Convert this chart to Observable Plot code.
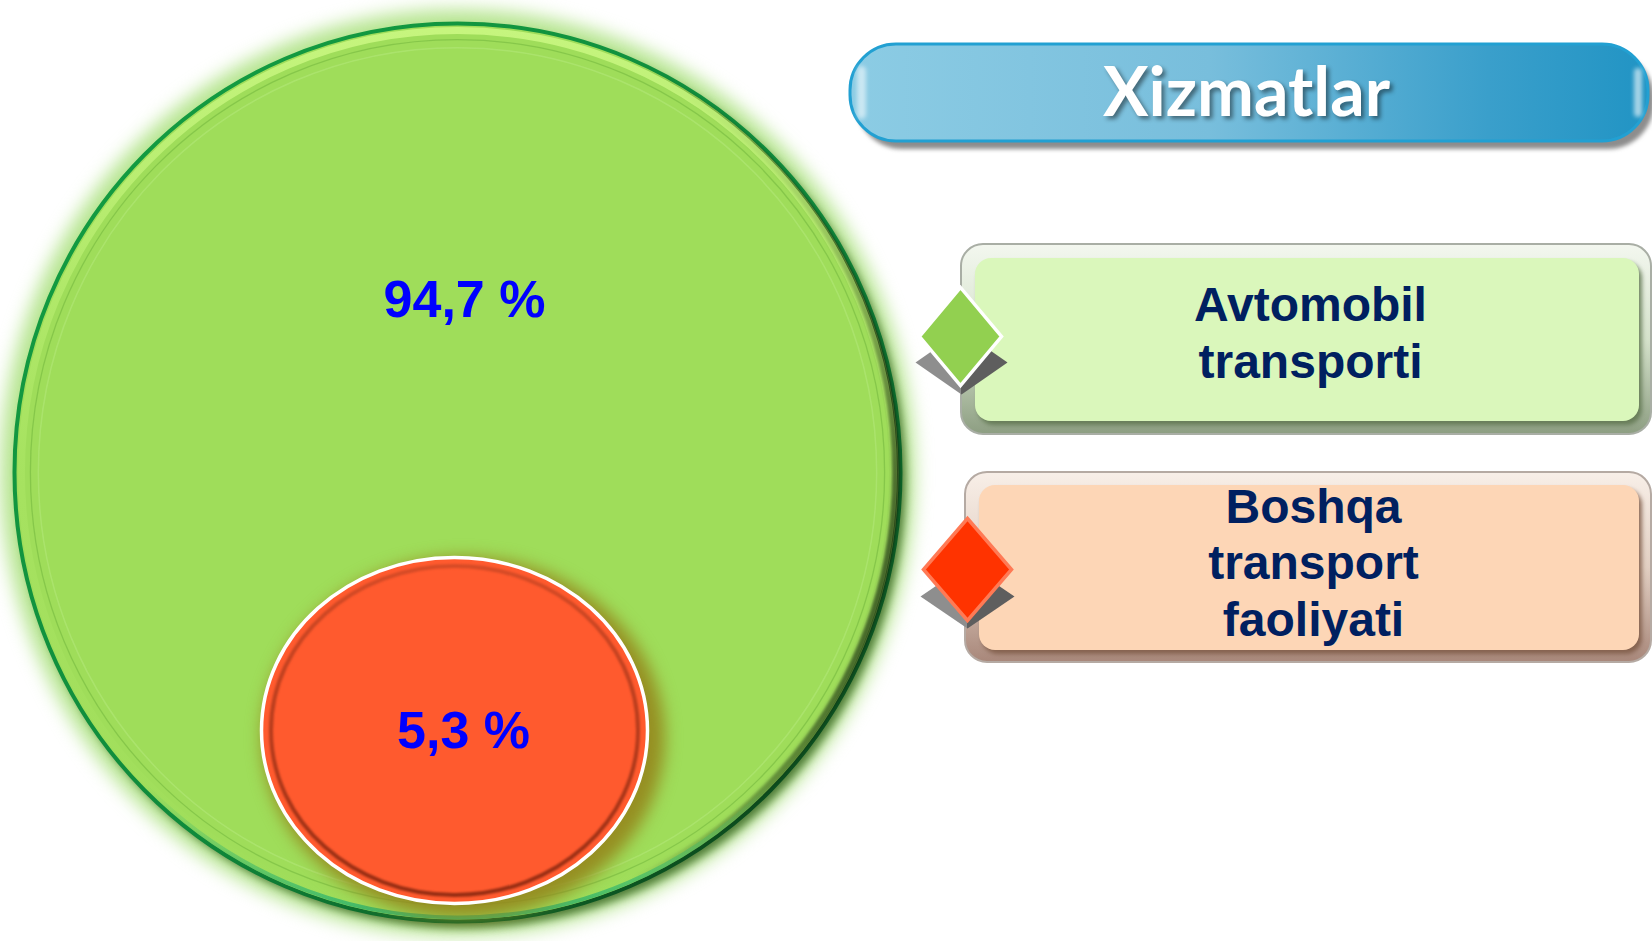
<!DOCTYPE html>
<html><head><meta charset="utf-8">
<script src="https://cdn.jsdelivr.net/npm/d3@7"></script>
<script src="https://cdn.jsdelivr.net/npm/@observablehq/plot@0.6"></script>
<style>html,body{margin:0;padding:0;overflow:hidden;background:#fff}</style>
</head><body><div id="chart"></div>
<script>
const W = 1652, H = 941;

// ---- data ----
const title = "Xizmatlar";
const categories = ["Avtomobil transporti", "Boshqa transport faoliyati"];
const legendLabels = ["Avtomobil\ntransporti", "Boshqa\ntransport\nfaoliyati"];
const shares = [94.7, 5.3];
const shareLabels = ["94,7 %", "5,3 %"];

// ---- layout (positions & sizes) ----
const circleLayout = [
  {cx: 457, cy: 472, rx: 443, ry: 449},
  {cx: 454, cy: 730, rx: 193, ry: 173}
];
const labelLayout = [{lx: 464, ly: 300}, {lx: 463, ly: 731}];
const boxLayout = [
  {x1: 961, x2: 1651, y1: 244, y2: 434, ix1: 975, ix2: 1639, iy1: 258, iy2: 421, tx: 1310, ty: 331},
  {x1: 965, x2: 1651, y1: 472, y2: 662, ix1: 979, ix2: 1639, iy1: 485, iy2: 650, tx: 1313, ty: 561}
];
const diamondLayout = [
  {dx0: 960, dy0: 336, hw: 41, hh: 49, sx: 961, sy: 362, shw: 46, shh: 32},
  {dx0: 967, dy0: 569, hw: 44, hh: 51, sx: 967, sy: 596, shw: 47, shh: 32}
];
const bannerLayout = {x1: 850, x2: 1648, y1: 44, y2: 141, tx: 1246, ty: 94};

// ---- styles ----
const circleFill = ["#9fdd5a", "#ff5a2e"];
const diamondFill = ["#92d050", "#ff3300"];
const diamondStroke = ["#ffffff", "#ff7a55"];
const boxInner = ["#daf7bb", "#fdd6b6"];
const boxInnerShadow = ["#5f7650", "#7e5a46"];
const boxStroke = ["#a9aea5", "#b5aaa3"];
const textBlue = "#0000ff";
const textNavy = "#002060";

const table = categories.map((c, i) => ({
  category: c, share: shares[i], label: shareLabels[i], legend: legendLabels[i],
  ...circleLayout[i], ...labelLayout[i], ...boxLayout[i], ...diamondLayout[i], i
}));
const bannerData = [{title, ...bannerLayout}];

// ---- custom symbols ----
const K = 0.5522847;
function ellipseSymbol(rx, ry) {
  return {draw(ctx, size) {
    const s = Math.sqrt(size / Math.PI) / Math.sqrt(rx * ry);
    const a = rx * s, b = ry * s;
    ctx.moveTo(a, 0);
    ctx.bezierCurveTo(a, b * K, a * K, b, 0, b);
    ctx.bezierCurveTo(-a * K, b, -a, b * K, -a, 0);
    ctx.bezierCurveTo(-a, -b * K, -a * K, -b, 0, -b);
    ctx.bezierCurveTo(a * K, -b, a, -b * K, a, 0);
    ctx.closePath();
  }};
}
function diamondSymbol(hw, hh) {
  return {draw(ctx, size) {
    const s = Math.sqrt(size / Math.PI) / Math.sqrt(hw * hh);
    const a = hw * s, b = hh * s;
    ctx.moveTo(0, -b); ctx.lineTo(a, 0); ctx.lineTo(0, b); ctx.lineTo(-a, 0); ctx.closePath();
  }};
}
const rOf = (rx, ry) => Math.sqrt(rx * ry);

// ---- defs ----
function defsMark() {
  const defs = d3.create("svg:defs");
  const lin = (id, x1, y1, x2, y2, stops) => {
    const g = defs.append("linearGradient").attr("id", id)
      .attr("x1", x1).attr("y1", y1).attr("x2", x2).attr("y2", y2);
    stops.forEach(([o, c, op]) => g.append("stop").attr("offset", o).attr("stop-color", c).attr("stop-opacity", op ?? 1));
  };
  lin("bannerGrad", 0, 0, 1, 0, [[0, "#8cccE4"], [0.45, "#78bedc"], [0.8, "#3a9fcb"], [1, "#2194c4"]]);
  lin("greenRim", 0, 0, 1, 1, [[0, "#14a043"], [0.55, "#0f8a3b"], [0.8, "#0c5a24"], [1, "#0a2c10"]]);
  lin("greenShade", 0, 0, 1, 0, [[0, "#1e3c14", 0], [0.7, "#1e3c14", 0], [1, "#10240a", 0.95]]);
  lin("greenHi", 0, 0, 0, 1, [[0, "#c6f57e", 1], [0.5, "#b4ec6c", 0.35], [1, "#b4ec6c", 0]]);
  lin("greenBottom", 0, 0, 0, 1, [[0, "#2fb06a", 0], [0.85, "#2fb06a", 0], [1, "#2fb56e", 0.9]]);
  lin("redRing", 0, 0, 0, 1, [[0, "#d24a26"], [1, "#8a2810"]]);
  lin("dShadow", 0, 0, 1, 0, [[0, "#8e8e8e"], [0.5, "#8e8e8e"], [0.5, "#5e5e5e"], [1, "#5e5e5e"]]);
  lin("box0", 0, 0, 0, 1, [[0, "#f3f7ef"], [0.5, "#d5e2cb"], [1, "#8d9e82"]]);
  lin("box1", 0, 0, 0, 1, [[0, "#f8efe8"], [0.5, "#e2cfc2"], [1, "#a8877a"]]);
  return defs.node();
}

const mk = (i) => table.filter(d => d.i === i);

const marks = [defsMark];

// green circle
{
  const d = table[0], r = rOf(d.rx, d.ry), sym = ellipseSymbol(d.rx, d.ry);
  const data = mk(0);
  marks.push(
    Plot.dot(data, {x: "cx", y: "cy", r: r + 14, symbol: sym, fill: "#a9e07c", fillOpacity: 0.85, imageFilter: "blur(9px)"}),
    Plot.dot(data, {x: "cx", y: "cy", dx: 5, dy: 6, r, symbol: sym, fill: "#4f7b38", imageFilter: "blur(4px)"}),
    Plot.dot(data, {x: "cx", y: "cy", r, symbol: sym, fill: circleFill[0], stroke: "url(#greenRim)", strokeWidth: 4}),
    Plot.dot(data, {x: "cx", y: "cy", r: r - 5, symbol: sym, fill: "none", stroke: "url(#greenShade)", strokeWidth: 7, imageFilter: "blur(1.5px)"}),
    Plot.dot(data, {x: "cx", y: "cy", r: r - 4, symbol: sym, fill: "none", stroke: "url(#greenBottom)", strokeWidth: 4}),
    Plot.dot(data, {x: "cx", y: "cy", r: r - 7, symbol: sym, fill: "none", stroke: "url(#greenHi)", strokeWidth: 7}),
    Plot.dot(data, {x: "cx", y: "cy", r: r - 16, symbol: sym, fill: "none", stroke: "#7fc246", strokeWidth: 1.3, strokeOpacity: 0.8}),
    Plot.dot(data, {x: "cx", y: "cy", r: r - 24, symbol: sym, fill: "none", stroke: "#b2e878", strokeWidth: 1.5, strokeOpacity: 0.6})
  );
}
// red circle
{
  const d = table[1], r = rOf(d.rx, d.ry), sym = ellipseSymbol(d.rx, d.ry);
  const data = mk(1);
  marks.push(
    Plot.dot(data, {x: "cx", y: "cy", dx: 9, dy: 7, r: r + 8, symbol: sym, fill: "#95861c", fillOpacity: 0.9, imageFilter: "blur(8px)"}),
    Plot.dot(data, {x: "cx", y: "cy", r, symbol: sym, fill: circleFill[1], stroke: "#ffffff", strokeWidth: 3.5}),
    Plot.dot(data, {x: "cx", y: "cy", r: r - 9, symbol: sym, fill: "none", stroke: "url(#redRing)", strokeWidth: 4, strokeOpacity: 0.9, imageFilter: "blur(1px)"})
  );
}
// share labels
marks.push(Plot.text(table, {x: "lx", y: "ly", text: "label", fill: textBlue, fontSize: 52, fontWeight: "bold",
  fontFamily: "Liberation Sans, Arial, sans-serif", textAnchor: "middle", lineAnchor: "middle"}));

// banner
marks.push(
  Plot.rect(bannerData, {x1: "x1", x2: "x2", y1: "y1", y2: "y2", dx: 6, dy: 8, rx: 46, fill: "#8d8d8d", imageFilter: "blur(2px)"}),
  Plot.rect(bannerData, {x1: "x1", x2: "x2", y1: "y1", y2: "y2", rx: 46, fill: "url(#bannerGrad)", stroke: "#22a0d2", strokeWidth: 3}),
  Plot.rect(bannerData, {x1: d => d.x1 + 7, x2: d => d.x1 + 16, y1: d => d.y1 + 22, y2: d => d.y2 - 22, rx: 5, fill: "#ffffff", fillOpacity: 0.55, imageFilter: "blur(2px)"}),
  Plot.rect(bannerData, {x1: d => d.x2 - 14, x2: d => d.x2 - 6, y1: d => d.y1 + 24, y2: d => d.y2 - 24, rx: 4, fill: "#ffffff", fillOpacity: 0.6, imageFilter: "blur(2px)"}),
  Plot.text(bannerData, {x: "tx", y: "ty", text: "title", fill: "#ffffff", fontSize: 68, fontWeight: "bold",
    fontFamily: "Lato, Open Sans, sans-serif", textAnchor: "middle", lineAnchor: "middle",
    imageFilter: "drop-shadow(3px 3px 2px rgba(0,0,0,0.45))"})
);

// legend boxes
table.forEach((d, i) => {
  const data = mk(i);
  marks.push(
    Plot.rect(data, {x1: "x1", x2: "x2", y1: "y1", y2: "y2", rx: 22, fill: `url(#box${i})`, stroke: boxStroke[i], strokeWidth: 2}),
    Plot.rect(data, {x1: "ix1", x2: "ix2", y1: "iy1", y2: "iy2", dx: 3, dy: 4, rx: 16, fill: boxInnerShadow[i], fillOpacity: 0.85, imageFilter: "blur(2px)"}),
    Plot.rect(data, {x1: "ix1", x2: "ix2", y1: "iy1", y2: "iy2", rx: 16, fill: boxInner[i]}),
    Plot.text(data, {x: "tx", y: "ty", text: "legend", fill: textNavy, fontSize: 48, fontWeight: "bold", lineHeight: 1.17,
      fontFamily: "Liberation Sans, Arial, sans-serif", textAnchor: "middle", lineAnchor: "middle"})
  );
});

// diamonds
table.forEach((d, i) => {
  const data = mk(i);
  marks.push(
    Plot.dot(data, {x: "sx", y: "sy", r: rOf(d.shw, d.shh), symbol: diamondSymbol(d.shw, d.shh), fill: "url(#dShadow)"}),
    Plot.dot(data, {x: "dx0", y: "dy0", r: rOf(d.hw, d.hh), symbol: diamondSymbol(d.hw, d.hh), fill: diamondFill[i], stroke: diamondStroke[i], strokeWidth: 3.5})
  );
});

const chart = Plot.plot({
  width: W, height: H, margin: 0,
  x: {domain: [0, W], range: [0, W], axis: null},
  y: {domain: [0, H], range: [0, H], axis: null},
  style: {background: "#ffffff", overflow: "hidden"},
  marks
});
document.getElementById("chart").appendChild(chart);
</script>
</body></html>
